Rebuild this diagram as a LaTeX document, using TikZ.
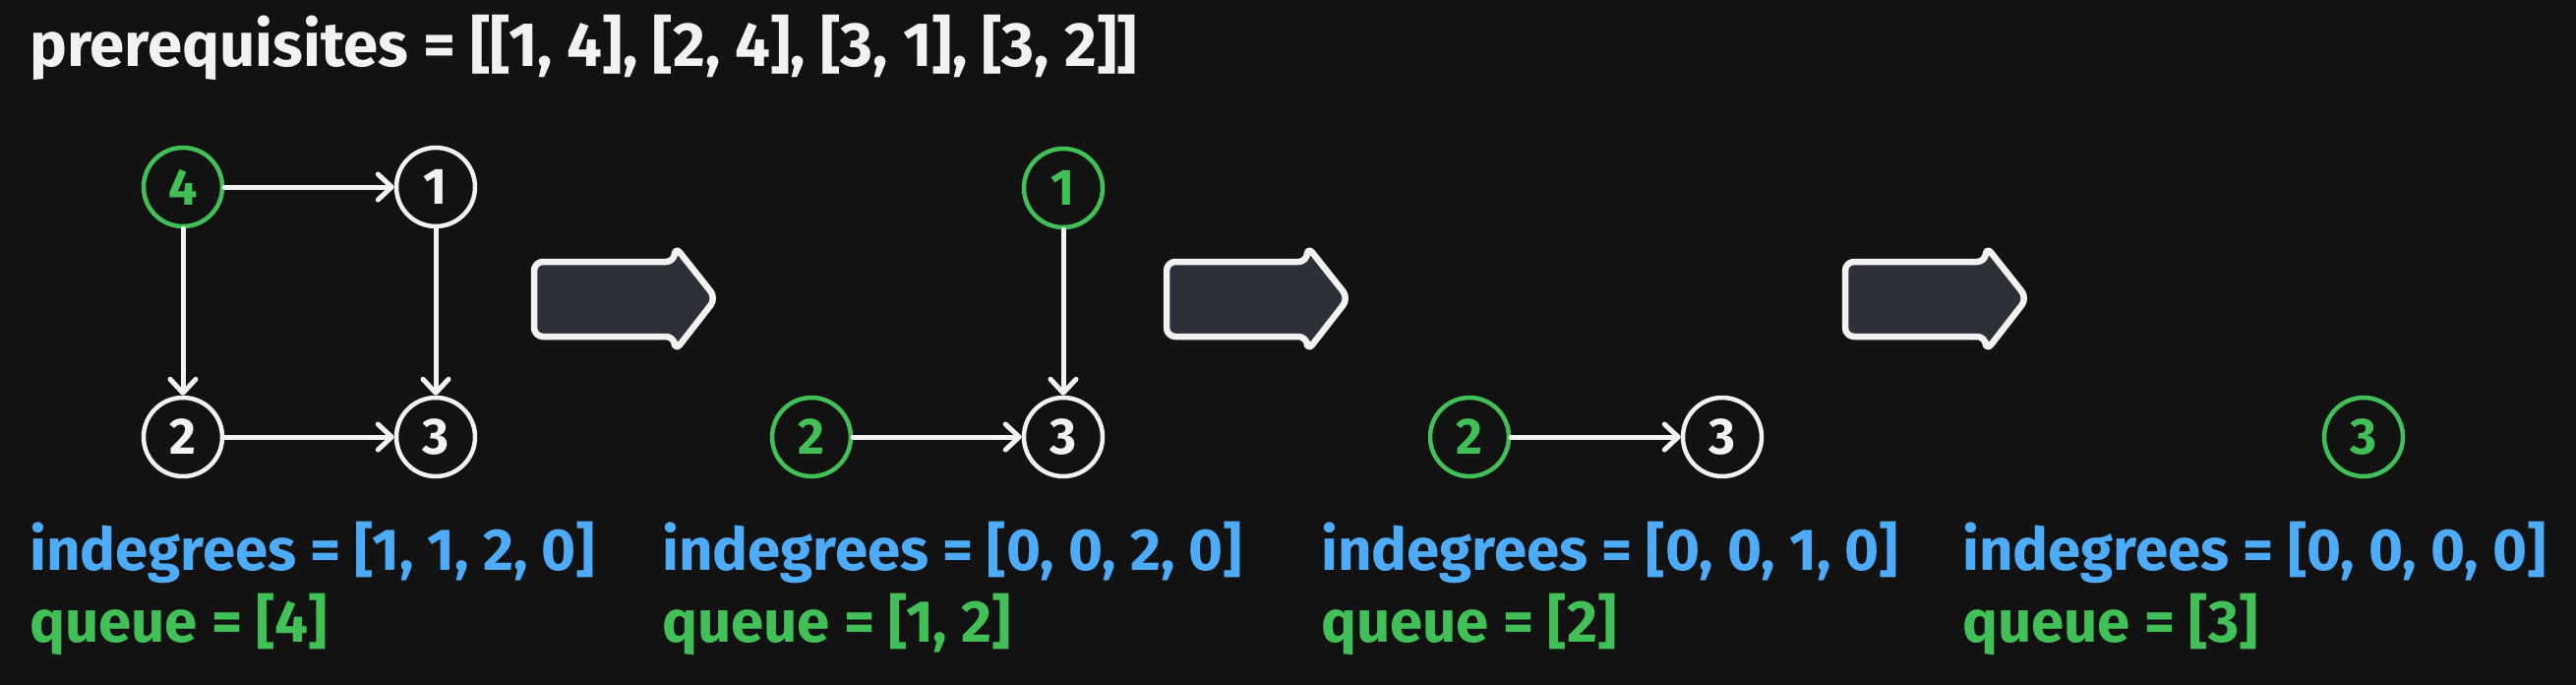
\documentclass[tikz,border=0pt]{standalone}
\usepackage{fontspec}
\setmainfont{Fira Sans}
\usetikzlibrary{arrows.meta}
\definecolor{bg}{HTML}{121212}
\definecolor{fg}{HTML}{F2F2F2}
\definecolor{grn}{HTML}{40C057}
\definecolor{blu}{HTML}{4DABF7}
\definecolor{arrfill}{HTML}{2E3038}
\tikzset{
  vnode/.style={circle, draw=fg, line width=4.5pt, minimum size=80pt, inner sep=0pt,
    font=\fontsize{52}{60}\selectfont\bfseries, text=fg},
  gnode/.style={vnode, draw=grn, text=grn},
  link/.style={draw=fg, line width=5pt, line cap=round,
    -{Straight Barb[length=14pt,width=26pt,line cap=round,line join=round]}},
  txt/.style={anchor=base west, inner sep=0pt, font=\fontsize{60}{70}\selectfont\bfseries},
  ttl/.style={anchor=base west, inner sep=0pt, font=\fontsize{63.5}{70}\selectfont\bfseries},
  bigarrow/.style={draw=fg, fill=arrfill, line width=6.5pt, rounded corners=9pt, line join=round}
}
\newcommand{\bigarr}[1]{%
  \draw[bigarrow] (#1+3,266) -- (#1+146,266) -- (#1+146,250) -- (#1+188,303)
    -- (#1+146,357) -- (#1+146,342) -- (#1+3,342) -- cycle;}
\begin{document}
\begin{tikzpicture}[x=1pt,y=-1pt]
\fill[bg] (0,0) rectangle (2619,696);
\useasboundingbox (0,0) rectangle (2619,696);

\node[ttl, text=fg] (title) at (30,67) {prerequisites = [[1, 4], [2, 4], [3, 1], [3, 2]]};

% graph 1
\node[gnode] (a4) at (186,190) {4};
\node[vnode] (a1) at (443,190) {1};
\node[vnode] (a2) at (186,444) {2};
\node[vnode] (a3) at (443,444) {3};
\draw[link] (a4) -- (a1);
\draw[link] (a4) -- (a2);
\draw[link] (a1) -- (a3);
\draw[link] (a2) -- (a3);

% graph 2
\node[gnode] (b1) at (1081,191) {1};
\node[gnode] (b2) at (825,444) {2};
\node[vnode] (b3) at (1081,444) {3};
\draw[link] (b1) -- (b3);
\draw[link] (b2) -- (b3);

% graph 3
\node[gnode] (c2) at (1494,444) {2};
\node[vnode] (c3) at (1751,444) {3};
\draw[link] (c2) -- (c3);

% graph 4
\node[gnode] (d3) at (2403,444) {3};

% big arrows
\bigarr{540}
\bigarr{1183}
\bigarr{1873}

% texts
\node[txt, text=blu] (i1) at (30,579) {indegrees = [1, 1, 2, 0]};
\node[txt, text=grn] (q1) at (30,652) {queue = [4]};
\node[txt, text=blu] (i2) at (673,579) {indegrees = [0, 0, 2, 0]};
\node[txt, text=grn] (q2) at (673,652) {queue = [1, 2]};
\node[txt, text=blu] (i3) at (1343,579) {indegrees = [0, 0, 1, 0]};
\node[txt, text=grn] (q3) at (1343,652) {queue = [2]};
\node[txt, text=blu] (i4) at (1995,579) {indegrees = [0, 0, 0, 0]};
\node[txt, text=grn] (q4) at (1995,652) {queue = [3]};
\end{tikzpicture}
\end{document}
